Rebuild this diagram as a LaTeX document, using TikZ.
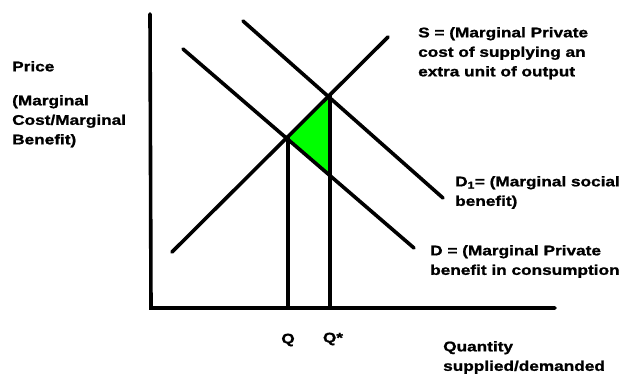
\documentclass[tikz,border=0pt]{standalone}
\usepackage{fontspec}
\setmainfont{Liberation Sans}[FakeStretch=1.23,BoldFeatures={FakeBold=1.2}]
\begin{document}
\begin{tikzpicture}[x=1pt,y=-1pt,
  curve/.style={line width=3.6pt,line cap=round,black},
  axis/.style={line width=3.6pt,line cap=round,black},
  lbl/.style={font=\fontsize{14}{19.5}\selectfont\bfseries,inner sep=0pt,align=left,anchor=north west},
  qlbl/.style={font=\fontsize{14}{19.5}\selectfont\bfseries,inner sep=0pt}]
\useasboundingbox (0,0) rectangle (629,378);
% axes
\coordinate (ytop) at (150,14);
\coordinate (orig) at (151,308);
\coordinate (xend) at (555,308);
% curves
\coordinate (s1) at (172,252);
\coordinate (s2) at (388,37);
\coordinate (d1) at (183,49);
\coordinate (d2) at (414,248);
\coordinate (e1) at (243,21);
\coordinate (e2) at (443,198);
% key points
\coordinate (A) at (288,137);
\coordinate (B) at (330,95);
\coordinate (C) at (330,176);
\coordinate (Aq) at (288,308);
\coordinate (Bq) at (330,308);
\fill[green!100] (A) -- (B) -- (C) -- cycle;
\draw[axis] (ytop) -- (orig) -- (xend);
\draw[curve] (s1) -- (s2);
\draw[curve] (d1) -- (d2);
\draw[curve] (e1) -- (e2);
\draw[curve,line cap=butt] (A) -- (Aq);
\draw[curve,line cap=butt] (B) -- (Bq);
% labels
\node[lbl] (price) at (12,61) {Price};
\node[lbl] (pdesc) at (12,95) {(Marginal\\Cost/Marginal\\Benefit)};
\node[lbl] (slbl) at (418,27) {S = (Marginal Private\\cost of supplying an\\extra unit of output};
\node[lbl] (d1lbl) at (455,176) {D\textsubscript{1}= (Marginal social\\benefit)};
\node[lbl] (dlbl) at (430,245) {D = (Marginal Private\\benefit in consumption};
\node[qlbl] (q) at (288,340) {Q};
\node[qlbl] (qs) at (333,339) {Q*};
\node[lbl] (qlabel) at (443,341) {Quantity\\supplied/demanded};
\end{tikzpicture}
\end{document}
